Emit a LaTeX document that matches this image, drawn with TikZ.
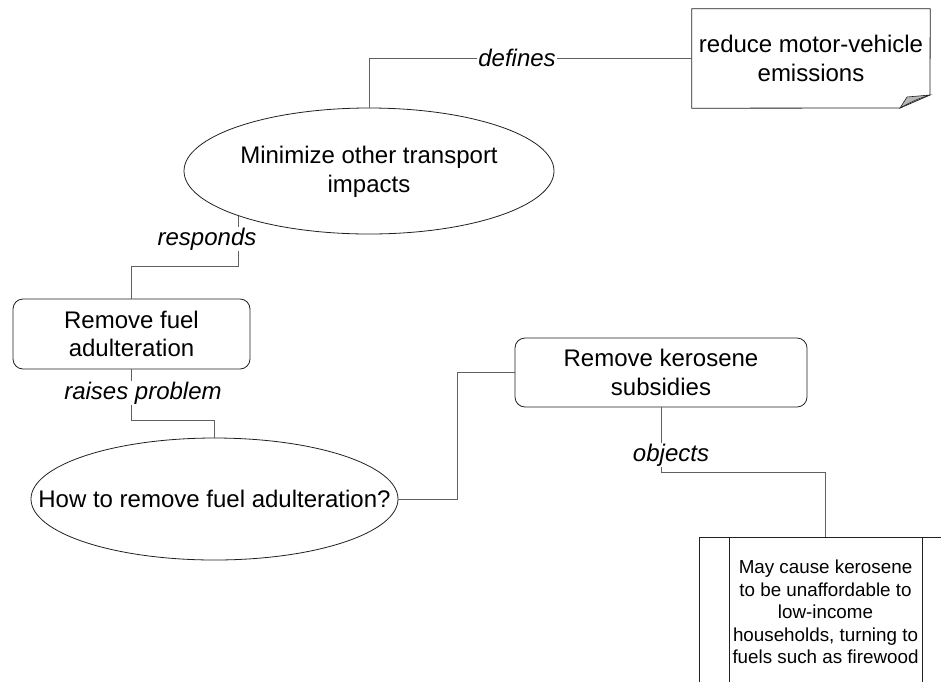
\documentclass[tikz,border=0pt]{standalone}
\usepackage{fontspec}
\setmainfont{Liberation Sans}
\usetikzlibrary{shapes.geometric,calc}
\definecolor{conncol}{HTML}{606060}
\definecolor{edgecol}{HTML}{202020}
\definecolor{foldcol}{HTML}{B8B8B8}
\begin{document}
\begin{tikzpicture}[x=1pt,y=-1pt,
  big/.style={font=\fontsize{24}{28.5}\selectfont, align=center},
  lbl/.style={font=\fontsize{24}{28}\itshape, fill=white, inner sep=1pt},
  ell/.style={ellipse, draw=edgecol, line width=0.8pt, inner sep=0pt},
  rbox/.style={rectangle, rounded corners=10pt, draw=edgecol, line width=0.8pt, inner sep=0pt, big},
  conn/.style={draw=conncol, line width=1pt}]
\useasboundingbox (0,0) rectangle (941,681);
\clip (0,0) rectangle (941,681);

% note shape
\node[big, minimum width=238pt, minimum height=99pt, inner sep=0pt] (note) at (811,58.5) {reduce motor-vehicle\\emissions};
\draw[edgecol, line width=0.8pt] (note.north west) -- (note.north east) -- (930,95) -- (900,108) -- (note.south west) -- cycle;
\fill[foldcol, draw=edgecol, line width=0.6pt] (900,108) -- (907,97) -- (930,95) .. controls (915,100) .. (900,108) -- cycle;

% ellipses (shape and text as separate nodes)
\node[ell, minimum width=370pt, minimum height=126pt] (e1) at (369,171) {};
\node[big] (e1text) at (369,172) {Minimize other transport\\impacts};
\node[ell, minimum width=367pt, minimum height=122pt] (e2) at (214.5,499) {};
\node[big] (e2text) at (214.5,499) {How to remove fuel adulteration?};

% boxes
\node[rbox, minimum width=237pt, minimum height=70pt] (box1) at (131.5,334) {Remove fuel\\adulteration};
\node[rbox, minimum width=292pt, minimum height=69pt] (box2) at (661,372.5) {Remove kerosene\\subsidies};

% bottom-right box (cut off by the page edge)
\node[rectangle, draw=edgecol, line width=0.8pt, minimum width=253pt, minimum height=163pt, inner sep=0pt] (objbox) at (825.5,618.5) {};
\draw[edgecol, line width=0.8pt] (729,537) -- (729,700) (922,537) -- (922,700);
\node[font=\fontsize{18.8}{22.6}\selectfont, align=center] (objtext) at (825.5,612) {May cause kerosene\\to be unaffordable to\\low-income\\households, turning to\\fuels such as firewood};

% connectors
\draw[conn] (e1.north) |- (note.west);
\node[lbl] (ldef) at (517,58) {defines};

\coordinate (rb) at (239,266);
\draw[conn] (e1.199) -- (e1.199 |- rb) -| (box1.north);
\node[lbl] (lresp) at (207,239) {responds};

\draw[conn] (box1.south) -- ++(0,51) -| (e2.north);
\node[lbl] (lraise) at (143,393) {raises problem};

\draw[conn] (e2.east) -- ++(59,0) |- (box2.west);

\draw[conn] (box2.south) -- ++(0,65) -| (objbox.north);
\node[lbl] (lobj) at (671,455) {objects};
\end{tikzpicture}
\end{document}
